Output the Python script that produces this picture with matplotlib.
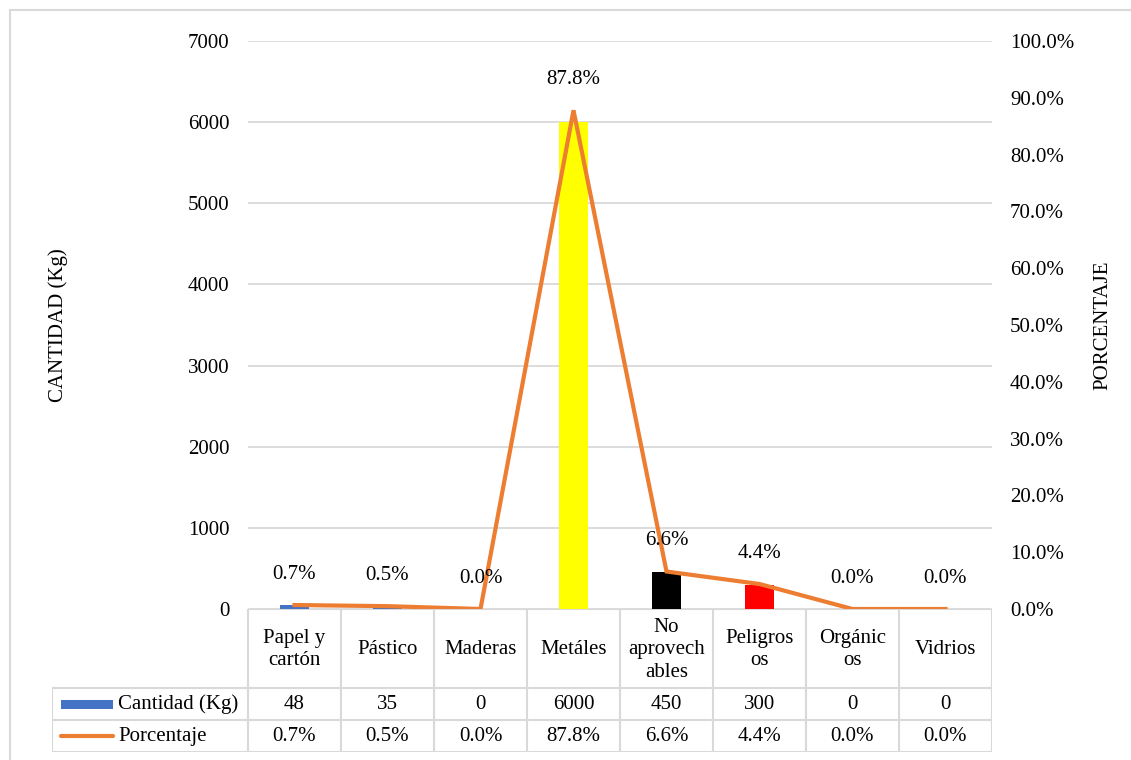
import matplotlib.pyplot as plt
from matplotlib.patches import Rectangle

plt.rcParams['font.family'] = ['Liberation Serif', 'DejaVu Serif']
plt.rcParams['font.size'] = 15

categorias = ['Papel y\ncartón', 'Pástico', 'Maderas', 'Metáles',
              'No\naprovech\nables', 'Peligros\nos', 'Orgánic\nos', 'Vidrios']
cantidad = [48, 35, 0, 6000, 450, 300, 0, 0]
porcentaje = [0.7, 0.5, 0.0, 87.8, 6.6, 4.4, 0.0, 0.0]
colores = ['#4472C4', '#4472C4', '#4472C4', '#FFFF00',
           '#000000', '#FF0000', '#4472C4', '#4472C4']

azul = '#4472C4'
naranja = '#ED7D31'
gris = '#D9D9D9'

W, H = 1131, 760
fig = plt.figure(figsize=(W / 100, H / 100), dpi=100)

# marco exterior
fig.add_artist(plt.Line2D([10 / W, 10 / W], [0, 1 - 10 / H], color=gris, lw=1.5))
fig.add_artist(plt.Line2D([10 / W, 1], [1 - 10 / H, 1 - 10 / H], color=gris, lw=1.5))

x = list(range(len(categorias)))
left, right = 248 / W, 992 / W
bottom, top = 1 - 609 / H, 1 - 41 / H
ax = fig.add_axes([left, bottom, right - left, top - bottom])
ax.bar(x, cantidad, width=0.32, color=colores, zorder=2)
ax.set_xlim(-0.5, len(categorias) - 0.5)
ax.set_ylim(0, 7000)
ax.set_yticks(range(0, 7001, 1000))
ax.grid(axis='y', color=gris, lw=1.3, zorder=0)
ax.set_axisbelow(True)
ax.set_xticks([])
ax.tick_params(axis='y', length=0, pad=13.5)
for s in ax.spines.values():
    s.set_visible(False)
ax.set_ylabel('CANTIDAD (Kg)', labelpad=0)
ax.yaxis.set_label_coords((68 / W - left) / (right - left), 0.5)

ax2 = ax.twinx()
ax2.plot(x, porcentaje, color=naranja, lw=3, solid_joinstyle='miter', zorder=3)
ax2.set_ylim(0, 100)
ax2.set_yticks(range(0, 101, 10))
ax2.set_yticklabels([f'{v:.1f}%' for v in range(0, 101, 10)])
ax2.tick_params(axis='y', length=0, pad=13)
for s in ax2.spines.values():
    s.set_visible(False)
ax2.set_ylabel('PORCENTAJE', rotation=90)
ax2.yaxis.set_label_coords((1093 / W - left) / (right - left), 0.5)
for xi, p in zip(x, porcentaje):
    ax2.annotate(f'{p:.1f}%', (xi, p), xytext=(0, 22), textcoords='offset points',
                 ha='center', va='center')

# tabla de datos bajo el gráfico
cw = (right - left) / len(categorias)
leg_w = 196 / W
tl = left - leg_w
tab = fig.add_axes([tl, 1 - 752 / H, right - tl, (752 - 609) / H])
x0 = -0.5 - leg_w / cw
x1 = len(categorias) - 0.5
tab.set_xlim(x0, x1)
tab.set_ylim(0, 4.5)
tab.axis('off')
lk = dict(color=gris, lw=1.5, solid_capstyle='projecting')
tab.plot([-0.5, x1], [4.5, 4.5], **lk)
for yy in [2, 1, 0]:
    tab.plot([x0, x1], [yy, yy], **lk)
tab.plot([x0, x0], [0, 2], **lk)
for i in range(len(categorias) + 1):
    tab.plot([i - 0.5, i - 0.5], [0, 4.5], **lk)
for xi, c, q, p in zip(x, categorias, cantidad, porcentaje):
    tab.text(xi, 3.22, c, ha='center', va='center', linespacing=1.25)
    tab.text(xi, 1.5, str(q), ha='center', va='center')
    tab.text(xi, 0.5, f'{p:.1f}%', ha='center', va='center')

# claves de serie en la tabla
px = 1 / 93
kx0 = x0 + 9 * px
kx1 = x0 + 61 * px
tab.add_patch(Rectangle((kx0, 1.35), kx1 - kx0, 0.3, color=azul, lw=0))
tab.plot([kx0, kx1], [0.5, 0.5], color=naranja, lw=3, solid_capstyle='round')
tab.text(kx1 + 5 * px, 1.5, 'Cantidad (Kg)', ha='left', va='center')
tab.text(kx1 + 5 * px, 0.5, 'Porcentaje', ha='left', va='center')

fig.savefig('out.png', dpi=100)
